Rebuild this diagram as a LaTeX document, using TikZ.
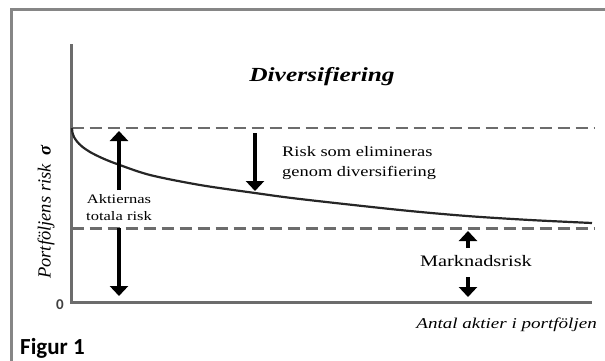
\documentclass[tikz,border=0pt]{standalone}
\usepackage{fontspec}
\setmainfont{Liberation Serif}
\newfontfamily\widefont[FakeStretch=1.27]{Liberation Serif}
\newfontfamily\capfont{Carlito}
\usetikzlibrary{arrows.meta}

\begin{document}
\begin{tikzpicture}[x=1pt, y=-1pt,
          frame/.style={draw=gray!95, line width=2.5pt},
          axis/.style={draw=gray!85!black, line width=2.5pt},
          level/.style={draw=gray!85!black, line width=2.2pt, dash pattern=on 12pt off 6pt},
          riskcurve/.style={draw=black!85, line width=2.2pt},
          arr/.style={-{Triangle[width=18pt, length=10pt]}, line width=3.5pt, black},
          lbl/.style={inner sep=0pt, align=#1},
          lbl/.default=center
        ]
        \useasboundingbox (0,0) rectangle (605,360);
        \draw[frame] (11.5,362) |- (607,9.5);
        \coordinate (orig) at (71.5,302.5);
        \coordinate (ytop) at (71.5,44);
        \coordinate (xend) at (592,302.5);
        \coordinate (hi0) at (71.5,128);
        \coordinate (hi1) at (595,128);
        \coordinate (lo0) at (71.5,228.5);
        \coordinate (lo1) at (595,228.5);
        \node[lbl, font=\widefont\bfseries\itshape\fontsize{20}{24}\selectfont] (title) at (322,77) {Diversifiering};
        \node[lbl=left, anchor=west, font=\widefont\fontsize{14.5}{20}\selectfont] (elim) at (282,163) {Risk som elimineras\\genom diversifiering};
        \node[lbl, font=\widefont\fontsize{13}{17}\selectfont] (total) at (119,208) {Aktiernas\\totala risk};
        \node[lbl, font=\widefont\fontsize{16}{19}\selectfont] (market) at (476,261) {Marknadsrisk};
        \node[lbl, rotate=90, font=\itshape\fontsize{18.5}{20}\selectfont] (ylab) at (46,212) {Portföljens risk\hspace{9pt}{\bfseries σ}};
        \node[lbl=right, anchor=east, font=\widefont\itshape\fontsize{15}{18}\selectfont] (xlab) at (597,325) {Antal aktier i portföljen};
        \node[lbl, font=\capfont\bfseries\fontsize{15}{17}\selectfont, text=black!75] (zero) at (60,305) {0};
        \node[lbl=left, anchor=west, font=\capfont\bfseries\fontsize{23}{26}\selectfont] (fig) at (20,348) {Figur 1};
        \coordinate (totup) at (119,131);
        \coordinate (totbot) at (119,190);
        \coordinate (totlo) at (119,228);
        \coordinate (totdown) at (119,296);
        \coordinate (elimtop) at (255,133);
        \coordinate (elimdown) at (255,191);
        \coordinate (mkbot) at (468,248);
        \coordinate (mkup) at (468,231);
        \coordinate (mktop) at (468,277);
        \coordinate (mkdown) at (468,297);
        \draw[axis] (ytop) -- (orig) -- (xend);
        \draw[level] (hi0) -- (hi1);
        \draw[level] (lo0) -- (lo1);
        \draw[riskcurve] plot[smooth, tension=0.5] coordinates {(72,128) (72.5,133) (74,137) (77,141.5) (82,146.5) (90,152) (102,158) (117,164) (150,175) (200,185) (255,193) (300,199) (400,210) (467,216) (530,220) (592,223)};
        \draw[arr] (totbot) -- (totup);
        \draw[arr] (totlo) -- (totdown);
        \draw[arr] (elimtop) -- (elimdown);
        \draw[arr] (mkbot) -- (mkup);
        \draw[arr] (mktop) -- (mkdown);
        \end{tikzpicture}
\end{document}
